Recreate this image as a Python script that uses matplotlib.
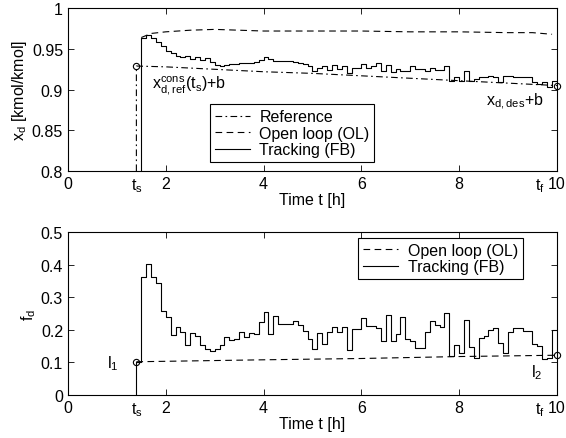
import matplotlib.pyplot as plt
import numpy as np

plt.rcParams["font.family"] = ["Liberation Sans", "DejaVu Sans"]
plt.rcParams["mathtext.default"] = "regular"
plt.rcParams["font.size"] = 11.5

# time grid of the controller (0.1 h samples, edges)
t_s = 1.4
t_f = 10.0
t_start = 1.5
t_edges = np.round(np.arange(t_start, t_f + 0.01, 0.1), 1)

# --- top panel: distillate composition x_d ---
ref_t = [1.4, 2.0, 3.0, 4.0, 5.0, 6.0, 7.0, 8.0, 9.0, 10.0]
ref_x = [0.929, 0.928, 0.925, 0.922, 0.920, 0.917, 0.914, 0.911, 0.908, 0.905]

ol_t = [1.5, 1.7, 2.0, 2.5, 3.0, 3.5, 4.0, 5.0, 6.0, 7.0, 8.0, 9.0, 9.5, 9.9]
ol_x = [0.964, 0.969, 0.971, 0.973, 0.974, 0.973, 0.972, 0.972, 0.972,
        0.971, 0.971, 0.970, 0.970, 0.968]

fb_x = [0.963, 0.967, 0.963, 0.958, 0.954, 0.948, 0.945, 0.941, 0.940, 0.941,
        0.938, 0.940, 0.937, 0.939, 0.934, 0.930, 0.929, 0.930, 0.931, 0.932,
        0.933, 0.933, 0.933, 0.934, 0.936, 0.940, 0.938, 0.935, 0.935, 0.935,
        0.935, 0.934, 0.933, 0.931, 0.929, 0.923, 0.926, 0.929, 0.924, 0.930,
        0.925, 0.929, 0.921, 0.927, 0.927, 0.932, 0.927, 0.929, 0.933, 0.923,
        0.930, 0.922, 0.925, 0.923, 0.923, 0.929, 0.925, 0.925, 0.923, 0.926,
        0.924, 0.924, 0.929, 0.911, 0.915, 0.911, 0.923, 0.911, 0.913, 0.915,
        0.916, 0.917, 0.916, 0.910, 0.917, 0.917, 0.916, 0.916, 0.915, 0.915,
        0.910, 0.907, 0.909, 0.903, 0.911]

# --- bottom panel: distillate flow f_d ---
l1 = 0.102
l2 = 0.123
ol_f_t = [1.4, 4.0, 6.0, 8.0, 10.0]
ol_f = [0.102, 0.108, 0.112, 0.118, 0.122]

fb_f = [0.363, 0.402, 0.363, 0.345, 0.259, 0.240, 0.184, 0.210, 0.194, 0.154,
        0.190, 0.182, 0.154, 0.141, 0.136, 0.141, 0.154, 0.177, 0.170, 0.172,
        0.192, 0.177, 0.190, 0.187, 0.223, 0.256, 0.187, 0.243, 0.218, 0.218,
        0.218, 0.228, 0.215, 0.197, 0.172, 0.141, 0.189, 0.158, 0.192, 0.209,
        0.192, 0.209, 0.139, 0.202, 0.202, 0.235, 0.212, 0.212, 0.205, 0.167,
        0.245, 0.167, 0.187, 0.240, 0.172, 0.167, 0.143, 0.143, 0.194, 0.228,
        0.215, 0.210, 0.251, 0.119, 0.153, 0.130, 0.231, 0.146, 0.115, 0.174,
        0.180, 0.200, 0.205, 0.160, 0.130, 0.192, 0.207, 0.207, 0.195, 0.195,
        0.155, 0.150, 0.110, 0.115, 0.200]

LW = 0.8
DASH = (0, (6, 4))
DASHDOT = (0, (6, 3, 1.5, 3))


def style_axes(ax):
    ax.tick_params(direction="in", top=True, right=True, length=4, width=0.6)
    for sp in ax.spines.values():
        sp.set_linewidth(0.8)
    ax.set_xlim(0, 10)
    ax.set_xticks([0, 2, 4, 6, 8, 10])
    ax.set_xlabel("Time t [h]", labelpad=1)
    # extra markers for start and final time under the axis
    trans = ax.get_xaxis_transform()
    ax.text(t_s, -0.035, "$t_s$", transform=trans, ha="center", va="top")
    ax.text(9.65, -0.035, "$t_f$", transform=trans, ha="center", va="top")


def main():
    fig = plt.figure(figsize=(5.66, 4.39), dpi=100)
    ax1 = fig.add_axes([0.120, 0.608, 0.864, 0.371])
    ax2 = fig.add_axes([0.120, 0.098, 0.864, 0.371])

    # top
    ax1.plot([ref_t[0]] + ref_t, [0.8] + ref_x, color="k", lw=LW,
             linestyle=DASHDOT, label="Reference")
    ax1.plot(ol_t, ol_x, color="k", lw=LW, linestyle=DASH,
             label="Open loop (OL)")
    ax1.plot(np.concatenate([[t_start], t_edges]),
             np.concatenate([[0.8], fb_x, [fb_x[-1]]]),
             color="k", lw=LW, drawstyle="steps-post", label="Tracking (FB)")
    ax1.plot([ref_t[0], ref_t[-1]], [ref_x[0], ref_x[-1]], "o", mfc="none",
             mec="k", ms=4.5, mew=0.8, clip_on=False)
    ax1.set_ylim(0.8, 1.0)
    ax1.set_yticks([0.8, 0.85, 0.9, 0.95, 1.0])
    ax1.set_yticklabels(["0.8", "0.85", "0.9", "0.95", "1"])
    ax1.set_ylabel("$x_d$ [kmol/kmol]", labelpad=2)
    ax1.text(1.72, 0.892, "$x_{d,ref}^{cons}(t_s)$+b", ha="left", va="bottom")
    ax1.text(8.55, 0.874, "$x_{d,des}$+b", ha="left", va="bottom")
    style_axes(ax1)
    leg = ax1.legend(loc="lower left", bbox_to_anchor=(0.29, 0.055),
                     fancybox=False, edgecolor="k", framealpha=1,
                     handlelength=2.2, borderpad=0.3, labelspacing=0.1,
                     handletextpad=0.6, borderaxespad=0)
    leg.get_frame().set_linewidth(0.8)

    # bottom
    ax2.plot(ol_f_t, ol_f, color="k", lw=LW, linestyle=DASH,
             label="Open loop (OL)")
    ax2.plot(np.concatenate([[t_s, t_s], t_edges]),
             np.concatenate([[0.0, l1], fb_f, [fb_f[-1]]]),
             color="k", lw=LW, drawstyle="steps-post", label="Tracking (FB)")
    ax2.plot([t_s, t_f], [l1, l2], "o", mfc="none", mec="k", ms=4.5,
             mew=0.8, clip_on=False)
    ax2.set_ylim(0, 0.5)
    ax2.set_yticks([0, 0.1, 0.2, 0.3, 0.4, 0.5])
    ax2.set_yticklabels(["0", "0.1", "0.2", "0.3", "0.4", "0.5"])
    ax2.set_ylabel("$f_d$", labelpad=2)
    ax2.text(0.92, 0.1, "$l_1$", ha="center", va="center")
    ax2.text(9.58, 0.072, "$l_2$", ha="center", va="center")
    style_axes(ax2)
    leg = ax2.legend(loc="upper right", bbox_to_anchor=(0.93, 0.965),
                     fancybox=False, edgecolor="k", framealpha=1,
                     handlelength=2.2, borderpad=0.3, labelspacing=0.1,
                     handletextpad=0.6, borderaxespad=0)
    leg.get_frame().set_linewidth(0.8)

    fig.savefig("out.png", dpi=100)


if __name__ == "__main__":
    main()
